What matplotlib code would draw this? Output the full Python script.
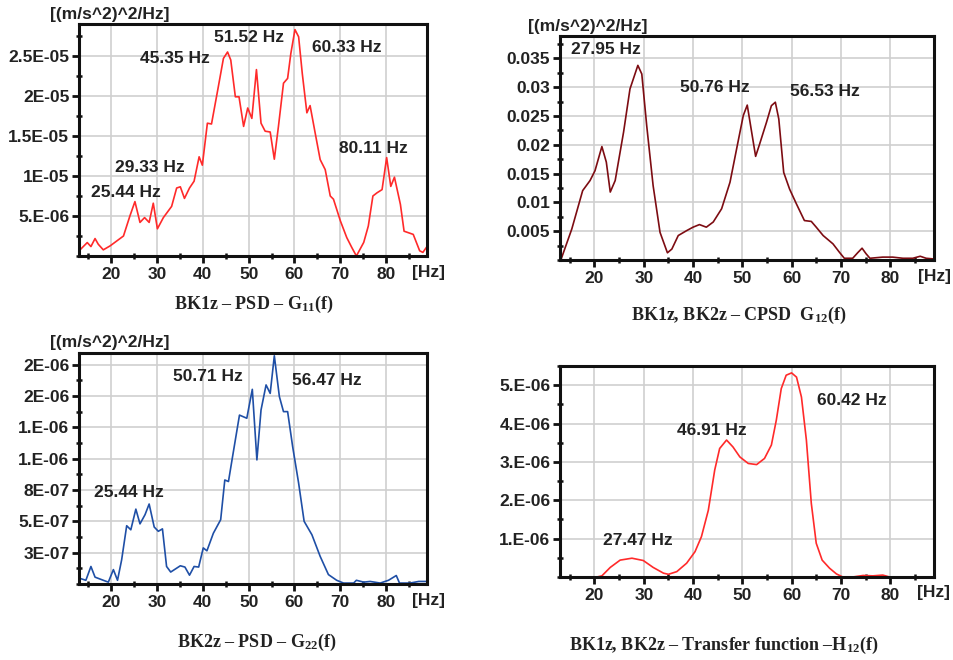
import matplotlib
matplotlib.use("Agg")
import matplotlib.pyplot as plt
from matplotlib.ticker import FixedLocator, MultipleLocator

plt.rcParams['font.family'] = ['Liberation Sans', 'DejaVu Sans']
plt.rcParams['font.weight'] = 'bold'
plt.rcParams['mathtext.fontset'] = 'custom'
plt.rcParams['mathtext.rm'] = 'Liberation Serif:bold'
plt.rcParams['mathtext.it'] = 'Liberation Serif:bold'
plt.rcParams['mathtext.bf'] = 'Liberation Serif:bold'

# ---------------- data ----------------
# Panel 1: BK1z PSD G11 (values in 1e-6 (m/s^2)^2/Hz)
g11_f = [13.0, 14.8, 15.6, 16.5, 17.2, 18.3, 19.8, 22.7, 24.1, 25.2, 26.3, 27.3, 28.3, 29.2, 30.1,
         31.4, 33.2, 34.3, 35.1, 36.0, 37.1, 38.1, 39.2, 39.9, 41.0, 41.9, 43.4, 44.5, 45.4, 46.1,
         47.1, 47.9, 48.9, 49.8, 50.7, 51.7, 52.7, 53.6, 54.7, 55.6, 56.5, 57.6, 58.5, 59.2, 60.1,
         60.9, 61.7, 62.7, 63.4, 64.5, 65.6, 66.7, 67.8, 68.5, 70.0, 71.4, 72.5, 73.5, 75.1, 76.1,
         77.1, 78.0, 79.1, 80.1, 81.0, 81.8, 83.1, 83.9, 85.9, 87.3, 88.0, 88.9]
g11_v = [0.64, 1.68, 1.18, 2.18, 1.47, 0.77, 1.27, 2.5, 5.0, 6.8, 4.2, 4.8, 4.2, 6.6, 3.4,
         4.8, 6.2, 8.5, 8.65, 7.2, 8.5, 9.35, 12.4, 11.35, 16.6, 16.5, 21.2, 24.7, 25.5, 24.5,
         19.9, 19.9, 16.2, 18.5, 17.2, 23.3, 16.6, 15.6, 15.5, 12.1, 16.2, 21.6, 22.2, 25.3, 28.3,
         27.4, 22.8, 17.9, 18.8, 15.4, 12.05, 10.8, 7.5, 7.1, 4.4, 2.3, 1.06, 0.0, 1.7, 3.75,
         7.5, 7.9, 8.3, 12.3, 8.7, 9.85, 6.45, 3.1, 2.7, 0.65, 0.45, 1.18]
g11_peaks = ["25.44 Hz", "29.33 Hz", "45.35 Hz", "51.52 Hz", "60.33 Hz", "80.11 Hz"]
g11_peak_pos = [(15.6, 8.0), (20.9, 11.1), (26.3, 24.7), (42.5, 27.3), (63.9, 26.0), (69.8, 13.4)]
g11_yticks = [5, 10, 15, 20, 25]
g11_ylabels = ["5.E-06", "1E-05", "1.5E-05", "2E-05", "2.5E-05"]

# Panel 2: BK1z, BK2z CPSD G12 (values in 1e-3)
g12_f = [13.25, 15.4, 17.6, 19.1, 20.1, 21.5, 22.4, 23.2, 24.2, 25.9, 27.2, 28.8, 29.6, 30.6, 31.9,
         33.3, 34.8, 35.7, 37.0, 38.7, 40.0, 41.3, 42.7, 44.1, 45.8, 47.5, 49.1, 50.2, 51.0, 51.8,
         52.7, 53.5, 54.9, 55.9, 56.7, 57.4, 58.4, 59.6, 61.0, 62.6, 64.0, 65.0, 66.4, 68.4, 69.7,
         70.7, 72.4, 73.4, 74.3, 75.1, 75.9, 78.5, 80.5, 82.6, 84.6, 86.1, 87.3, 88.6]
g12_v = [0.2, 5.4, 12.05, 13.8, 15.5, 19.7, 17.0, 11.8, 13.8, 22.2, 29.7, 33.8, 32.3, 23.3, 12.9,
         4.8, 1.25, 1.9, 4.25, 5.1, 5.7, 6.15, 5.7, 6.6, 8.9, 13.5, 20.4, 25.1, 26.9, 22.7,
         18.0, 20.1, 23.9, 26.8, 27.4, 24.5, 15.2, 12.3, 9.7, 6.85, 6.7, 5.7, 4.25, 2.8, 1.35,
         0.3, 0.3, 1.25, 2.05, 1.1, 0.3, 0.5, 0.5, 0.3, 0.3, 0.65, 0.3, 0.2]
g12_peaks = ["27.95 Hz", "50.76 Hz", "56.53 Hz"]
g12_peak_pos = [(15.3, 36.6), (37.3, 30.0), (59.7, 29.2)]
g12_yticks = [5, 10, 15, 20, 25, 30, 35]
g12_ylabels = ["0.005", "0.01", "0.015", "0.02", "0.025", "0.03", "0.035"]

# Panel 3: BK2z PSD G22 (values in 1e-7)
g22_f = [13.0, 14.5, 15.6, 16.5, 18.3, 19.4, 20.5, 21.4, 22.3, 23.4, 24.3, 25.4, 26.3, 27.4, 28.3,
         29.4, 30.3, 31.2, 32.1, 33.0, 35.1, 36.1, 37.1, 38.1, 39.1, 40.1, 40.9, 42.3, 43.9, 44.8,
         45.6, 46.5, 48.0, 49.6, 50.0, 50.8, 51.8, 52.7, 53.8, 54.7, 55.6, 56.7, 57.6, 58.5, 59.6,
         60.9, 62.1, 63.8, 65.6, 67.4, 69.2, 70.7, 72.9, 73.5, 75.1, 76.5, 78.7, 80.5, 82.2, 82.9,
         85.2, 87.1, 88.9]
g22_v = [0.51, 0.32, 1.51, 0.59, 0.32, 0.16, 1.24, 0.32, 2.08, 5.02, 4.67, 6.45, 5.18, 5.97, 6.89,
         4.91, 4.54, 4.75, 1.51, 1.03, 1.57, 1.46, 0.76, 1.51, 1.46, 3.11, 2.86, 4.37, 5.54, 8.96,
         8.83, 10.99, 14.55, 14.28, 15.12, 16.77, 10.69, 14.99, 17.15, 16.42, 19.66, 16.15, 14.85, 14.85, 11.83,
         8.69, 5.4, 4.24, 2.38, 0.81, 0.32, 0.08, 0.08, 0.32, 0.16, 0.22, 0.08, 0.32, 0.73, 0.08,
         0.08, 0.22, 0.22]
g22_peaks = ["25.44 Hz", "50.71 Hz", "56.47 Hz"]
g22_peak_pos = [(16.3, 7.91), (33.4, 17.85), (59.4, 17.52)]
g22_yticks = [2.7, 5.4, 8.1, 10.8, 13.5, 16.2, 18.9]
g22_ylabels = ["3E-07", "5.E-07", "8E-07", "1.E-06", "1.E-06", "2E-06", "2E-06"]

# Panel 4: BK1z, BK2z transfer function H12 (values in 1e-6)
h12_f = [13.25, 20.5, 21.5, 23.2, 25.2, 27.6, 29.9, 31.9, 34.0, 35.0, 36.7, 38.7, 40.4, 41.7, 43.1,
         44.4, 45.4, 46.8, 48.1, 49.5, 51.2, 52.9, 54.5, 55.9, 56.9, 57.9, 58.9, 60.0, 61.0, 62.0,
         63.0, 64.0, 65.0, 66.2, 67.7, 69.1, 70.4, 72.4, 74.5, 76.5, 78.5, 79.9, 88.6]
h12_v = [0.0, 0.0, 0.03, 0.25, 0.44, 0.49, 0.43, 0.25, 0.10, 0.07, 0.14, 0.36, 0.66, 1.05, 1.74,
         2.79, 3.35, 3.57, 3.39, 3.13, 2.96, 2.93, 3.09, 3.44, 4.09, 4.91, 5.26, 5.32, 5.21, 4.69,
         3.57, 1.92, 0.88, 0.44, 0.23, 0.08, 0.0, 0.0, 0.04, 0.03, 0.05, 0.0, 0.0]
h12_peaks = ["27.47 Hz", "46.91 Hz", "60.42 Hz"]
h12_peak_pos = [(21.7, 0.95), (36.7, 3.83), (65.1, 4.59)]
h12_yticks = [1, 2, 3, 4, 5]
h12_ylabels = ["1.E-06", "2.E-06", "3.E-06", "4.E-06", "5.E-06"]

x_ticks = [20, 30, 40, 50, 60, 70, 80]
unit_label = "[(m/s^2)^2/Hz]"

W, H = 954, 660
fig = plt.figure(figsize=(W / 100, H / 100), dpi=100)


def px_axes(l, t, r, b):
    return fig.add_axes([l / W, 1 - b / H, (r - l) / W, (b - t) / H])


FS = 12.5
TXT = '#222222'


def style(ax, f, v, color, ylim, yticks, ylabels, yminor, peaks, peak_pos):
    ax.plot(f, v, color=color, lw=1.2)
    ax.set_xlim(13.0, 88.9)
    ax.set_ylim(*ylim)
    ax.set_xticks(x_ticks)
    ax.set_xticklabels([str(t) for t in x_ticks])
    ax.xaxis.set_minor_locator(MultipleLocator(5))
    ax.set_yticks(yticks)
    ax.set_yticklabels(ylabels)
    ax.yaxis.set_minor_locator(MultipleLocator(yminor))
    ax.grid(True, which='major', color='#cfcfcf', lw=1.2)
    ax.set_axisbelow(True)
    for s in ax.spines.values():
        s.set_linewidth(2.2)
        s.set_color('#111111')
    ax.tick_params(axis='both', which='major', direction='out', length=5, width=2,
                   labelsize=FS, colors='#111111', labelcolor=TXT)
    ax.tick_params(axis='both', which='minor', direction='inout', length=5, width=1.8,
                   colors='#111111')
    ax.tick_params(axis='y', which='major', pad=2)
    ax.tick_params(axis='x', which='major', pad=3)
    for lab in ax.get_xticklabels() + ax.get_yticklabels():
        lab.set_fontweight('bold')
    for txt, (px, py) in zip(peaks, peak_pos):
        ax.text(px, py, txt, fontsize=FS, fontweight='bold', color=TXT,
                ha='left', va='center', clip_on=False)


ax1 = px_axes(79, 24, 427, 256)
style(ax1, g11_f, g11_v, '#ff2a2a', (0, 29.0), g11_yticks, g11_ylabels, 2.5,
      g11_peaks, g11_peak_pos)

ax2 = px_axes(560, 36, 934, 260)
style(ax2, g12_f, g12_v, '#7d0c12', (0, 38.9), g12_yticks, g12_ylabels, 2.5,
      g12_peaks, g12_peak_pos)

ax3 = px_axes(79, 353, 427, 584)
style(ax3, g22_f, g22_v, '#1f4fa6', (0, 19.9), g22_yticks, g22_ylabels, 1.35,
      g22_peaks, g22_peak_pos)

ax4 = px_axes(560, 366, 934, 577)
style(ax4, h12_f, h12_v, '#ff2a2a', (0, 5.5), h12_yticks, h12_ylabels, 0.5,
      h12_peaks, h12_peak_pos)


def ftext(x, y, s, **kw):
    fig.text(x / W, 1 - y / H, s, **kw)


# unit labels
for (x, y) in [(50, 15), (528, 27), (50, 343)]:
    ftext(x, y, unit_label, fontsize=FS, fontweight='bold', color=TXT, ha='left', va='center')

# [Hz] labels
for (x, y) in [(412, 273), (918, 277), (412, 600), (917, 592)]:
    ftext(x, y, "[Hz]", fontsize=FS, fontweight='bold', color=TXT, ha='left', va='center')

# captions
cap_kw = dict(fontsize=13, fontweight='bold', family='Liberation Serif', color=TXT,
              ha='center', va='center')
ftext(254, 304, "BK1z – PSD – G$_{11}$(f)", **cap_kw)
ftext(739, 315, "BK1z, BK2z – CPSD  G$_{12}$(f)", **cap_kw)
ftext(257, 642, "BK2z – PSD – G$_{22}$(f)", **cap_kw)
ftext(724, 645, "BK1z, BK2z – Transfer function –H$_{12}$(f)", **cap_kw)

fig.savefig("out.png", dpi=100)
